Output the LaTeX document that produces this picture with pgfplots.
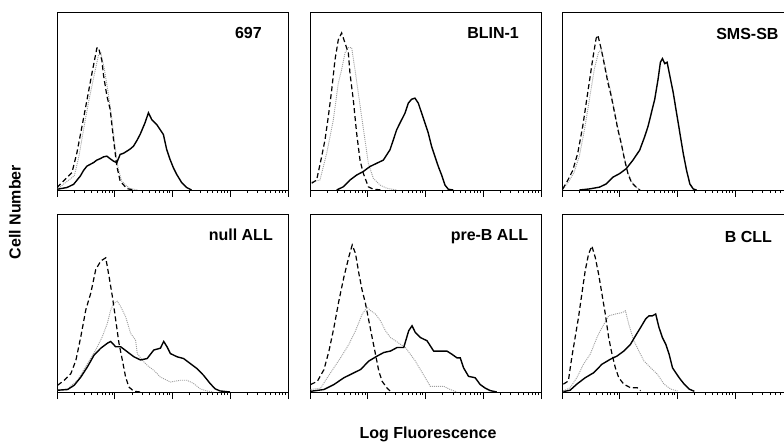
\documentclass[border=0pt]{standalone}
\usepackage{pgfplots}
\pgfplotsset{compat=1.18}
\usepackage{fontspec}
\setmainfont{Liberation Sans}
\pgfplotsset{
  panel/.style={
    scale only axis, width=231pt, height=178pt, anchor=south west,
    xmin=0, xmax=4, ymin=0, ymax=5,
    xtick={0,1,2,3,4},
    minor xtick={0.301,0.477,0.602,0.699,0.778,0.845,0.903,0.954,
      1.301,1.477,1.602,1.699,1.778,1.845,1.903,1.954,
      2.301,2.477,2.602,2.699,2.778,2.845,2.903,2.954,
      3.301,3.477,3.602,3.699,3.778,3.845,3.903,3.954},
    ytick=\empty, minor ytick={1,2,3,4},
    xticklabels={}, yticklabels={},
    tick align=outside, xtick pos=bottom, ytick pos=left,
    major tick length=7pt, minor tick length=3pt,
    every tick/.style={black, line width=0.8pt},
    axis line style={line width=0.9pt},
  },
  sol/.style={black, line width=1.4pt, no marks},
  das/.style={black, line width=1.2pt, dash pattern=on 5pt off 3pt, no marks},
  dot/.style={gray!75, line width=0.9pt, dash pattern=on 1pt off 1pt, no marks},
}
\newcommand{\ptitle}[1]{\fontsize{16}{19}\selectfont\bfseries #1}
\begin{document}
\begin{tikzpicture}
\path[use as bounding box] (0,0) rectangle (784pt,442pt);
\clip (0,0) rectangle (784pt,442pt);

% ---------- 697 ----------
\begin{axis}[panel, at={(57pt,252pt)}]
\addplot[dot] coordinates {(0,0.02)(0.3,0.4)(0.38,0.95)(0.46,1.7)(0.55,2.5)(0.64,3.2)(0.72,3.8)(0.76,3.85)(0.82,3.4)(0.88,2.8)(0.95,2.0)(1.0,1.3)(1.06,0.6)(1.12,0.25)(1.25,0.05)(1.4,0)};
\addplot[das] coordinates {(0,0.07)(0.259,0.49)(0.345,1.05)(0.432,1.78)(0.518,2.52)(0.604,3.27)(0.691,3.99)(0.719,4.0)(0.777,3.64)(0.806,3.22)(0.863,2.65)(0.921,2.26)(0.978,1.42)(1.036,0.67)(1.094,0.25)(1.209,0.04)(1.324,0)};
\addplot[sol] coordinates {(0,0.02)(0.173,0.07)(0.288,0.16)(0.403,0.39)(0.46,0.55)(0.518,0.67)(0.575,0.72)(0.633,0.77)(0.69,0.84)(0.748,0.88)(0.805,0.93)(0.863,0.95)(0.92,0.88)(0.978,0.81)(1.036,0.77)(1.094,1.0)(1.15,1.03)(1.209,1.09)(1.266,1.15)(1.324,1.23)(1.38,1.38)(1.439,1.56)(1.525,1.89)(1.583,2.17)(1.64,1.98)(1.727,1.84)(1.784,1.7)(1.842,1.56)(1.899,1.14)(1.957,0.86)(2.014,0.63)(2.072,0.44)(2.158,0.21)(2.245,0.07)(2.331,0)};
\node[anchor=north east, inner sep=0pt] at (rel axis cs:0.887,0.915) {\ptitle{697}};
\end{axis}

% ---------- BLIN-1 ----------
\begin{axis}[panel, at={(310pt,252pt)}]
\addplot[dot] coordinates {(0.029,0.23)(0.173,0.28)(0.289,1.03)(0.404,1.97)(0.49,3.0)(0.548,3.38)(0.606,3.85)(0.664,4.0)(0.721,4.0)(0.779,3.38)(0.837,2.72)(0.894,2.06)(0.952,1.41)(1.01,0.75)(1.096,0.33)(1.212,0.14)(1.327,0.05)(1.5,0)};
\addplot[das] coordinates {(0.029,0.19)(0.115,0.28)(0.202,0.94)(0.26,1.41)(0.317,2.06)(0.375,2.8)(0.433,3.66)(0.49,4.22)(0.548,4.41)(0.606,4.13)(0.664,3.85)(0.692,3.28)(0.75,2.53)(0.808,1.59)(0.866,0.84)(0.923,0.47)(1.01,0.09)(1.096,0.02)(1.27,0)};
\addplot[sol] coordinates {(0.462,0)(0.577,0.09)(0.692,0.28)(0.808,0.42)(0.923,0.52)(1.039,0.66)(1.154,0.75)(1.27,0.84)(1.385,1.13)(1.443,1.41)(1.5,1.69)(1.558,1.88)(1.645,2.16)(1.702,2.44)(1.76,2.55)(1.818,2.58)(1.875,2.44)(1.933,2.16)(1.991,1.88)(2.048,1.6)(2.106,1.22)(2.164,0.94)(2.222,0.66)(2.279,0.42)(2.337,0.14)(2.395,0.02)(2.481,0)};
\node[anchor=north east, inner sep=0pt] at (rel axis cs:0.905,0.915) {\ptitle{BLIN-1}};
\end{axis}

% ---------- SMS-SB ----------
\begin{axis}[panel, at={(562pt,252pt)}]
\addplot[dot] coordinates {(0.02,0.02)(0.12,0.25)(0.21,0.5)(0.3,0.95)(0.39,1.7)(0.48,2.6)(0.56,3.4)(0.63,3.85)(0.68,3.95)(0.72,3.7)(0.78,3.2)(0.84,2.8)(0.9,2.3)(0.96,1.8)(1.02,1.35)(1.08,0.9)(1.14,0.5)(1.2,0.25)(1.28,0.08)(1.36,0)};
\addplot[das] coordinates {(0.012,0.03)(0.099,0.27)(0.186,0.55)(0.272,1.03)(0.359,1.79)(0.446,2.74)(0.533,3.69)(0.591,4.26)(0.62,4.35)(0.678,3.97)(0.736,3.5)(0.794,3.02)(0.852,2.64)(0.91,2.17)(0.968,1.69)(1.026,1.31)(1.084,0.84)(1.142,0.46)(1.2,0.22)(1.258,0.12)(1.345,0)};
\addplot[sol] coordinates {(0.301,0)(0.475,0.03)(0.649,0.08)(0.765,0.17)(0.881,0.36)(0.997,0.46)(1.113,0.6)(1.229,0.84)(1.345,1.12)(1.432,1.5)(1.49,1.79)(1.548,2.17)(1.606,2.55)(1.664,3.12)(1.704,3.59)(1.739,3.69)(1.78,3.55)(1.82,3.59)(1.867,3.21)(1.925,2.74)(1.983,2.17)(2.041,1.6)(2.099,1.03)(2.157,0.55)(2.214,0.17)(2.272,0.03)(2.33,0)};
\node[anchor=north east, inner sep=0pt] at (rel axis cs:0.938,0.91) {\ptitle{SMS-SB}};
\end{axis}

% ---------- null ALL ----------
\begin{axis}[panel, at={(57pt,50pt)}]
\addplot[dot] coordinates {(0.011,0.05)(0.184,0.09)(0.356,0.33)(0.528,0.8)(0.671,1.18)(0.786,1.56)(0.872,1.93)(0.93,2.31)(0.987,2.5)(1.044,2.55)(1.102,2.4)(1.188,2.12)(1.274,1.65)(1.36,1.46)(1.389,1.08)(1.475,0.9)(1.561,0.75)(1.676,0.61)(1.79,0.42)(1.963,0.28)(2.135,0.33)(2.25,0.33)(2.364,0.24)(2.479,0.09)(2.594,0.03)(2.709,0)};
\addplot[das] coordinates {(0.011,0.19)(0.126,0.33)(0.241,0.52)(0.327,0.89)(0.413,1.56)(0.499,2.31)(0.585,2.78)(0.671,3.44)(0.758,3.68)(0.844,3.77)(0.901,3.25)(0.958,2.69)(1.016,2.03)(1.073,1.37)(1.131,0.9)(1.188,0.42)(1.245,0.14)(1.331,0.02)(1.446,0)};
\addplot[sol] coordinates {(0.011,0.05)(0.184,0.07)(0.298,0.19)(0.413,0.42)(0.528,0.71)(0.643,1.04)(0.758,1.23)(0.872,1.37)(0.93,1.42)(1.016,1.27)(1.102,1.27)(1.217,1.13)(1.331,0.99)(1.446,0.9)(1.561,0.94)(1.676,1.18)(1.79,1.23)(1.848,1.42)(1.905,1.27)(1.963,1.08)(2.078,0.99)(2.192,0.94)(2.307,0.8)(2.422,0.66)(2.537,0.47)(2.651,0.24)(2.737,0.09)(2.823,0.03)(2.995,0)};
\node[anchor=north east, inner sep=0pt] at (rel axis cs:0.935,0.915) {\ptitle{null ALL}};
\end{axis}

% ---------- pre-B ALL ----------
\begin{axis}[panel, at={(310pt,50pt)}]
\addplot[dot] coordinates {(0.012,0.07)(0.184,0.11)(0.299,0.4)(0.414,0.68)(0.529,0.96)(0.673,1.34)(0.788,1.72)(0.904,2.19)(0.99,2.38)(1.047,2.29)(1.134,2.19)(1.22,2.0)(1.307,1.72)(1.393,1.53)(1.479,1.44)(1.565,1.34)(1.652,1.25)(1.738,1.06)(1.824,0.87)(1.911,0.63)(1.997,0.4)(2.083,0.16)(2.199,0.16)(2.314,0.16)(2.429,0.07)(2.544,0)};
\addplot[das] coordinates {(0.012,0.21)(0.127,0.3)(0.242,0.63)(0.328,1.15)(0.414,1.81)(0.501,2.57)(0.587,3.23)(0.673,3.8)(0.731,4.13)(0.788,3.89)(0.846,3.33)(0.904,2.85)(0.961,2.48)(1.019,2.0)(1.076,1.53)(1.134,1.06)(1.191,0.59)(1.249,0.3)(1.335,0.11)(1.393,0.02)};
\addplot[sol] coordinates {(0.012,0.02)(0.242,0.07)(0.414,0.21)(0.587,0.4)(0.76,0.54)(0.875,0.63)(1.019,0.87)(1.163,1.01)(1.278,1.11)(1.393,1.15)(1.508,1.25)(1.623,1.25)(1.709,1.72)(1.767,1.86)(1.824,1.67)(1.911,1.53)(2.026,1.44)(2.141,1.15)(2.256,1.15)(2.371,1.15)(2.458,1.06)(2.544,0.96)(2.601,0.96)(2.659,0.68)(2.745,0.44)(2.86,0.4)(2.947,0.21)(3.033,0.11)(3.119,0.04)(3.234,0)};
\node[anchor=north east, inner sep=0pt] at (rel axis cs:0.945,0.915) {\ptitle{pre-B ALL}};
\end{axis}

% ---------- B CLL ----------
\begin{axis}[panel, at={(562pt,50pt)}]
\addplot[dot] coordinates {(0.023,0.03)(0.14,0.12)(0.256,0.4)(0.372,0.78)(0.488,1.06)(0.605,1.53)(0.692,1.81)(0.808,2.14)(0.924,2.19)(1.041,2.23)(1.099,2.28)(1.157,1.9)(1.244,1.44)(1.331,1.15)(1.419,0.87)(1.535,0.68)(1.651,0.5)(1.767,0.22)(1.884,0.08)(2.0,0.03)};
\addplot[das] coordinates {(0.023,0.22)(0.11,0.31)(0.169,0.97)(0.227,1.53)(0.285,2.09)(0.343,2.75)(0.401,3.4)(0.459,3.87)(0.517,4.1)(0.576,3.78)(0.634,3.31)(0.692,2.75)(0.75,2.19)(0.808,1.53)(0.866,1.06)(0.924,0.68)(0.983,0.4)(1.07,0.22)(1.186,0.12)(1.302,0.12)(1.36,0.03)};
\addplot[sol] coordinates {(0.023,0.01)(0.14,0.05)(0.256,0.22)(0.401,0.4)(0.547,0.54)(0.692,0.78)(0.837,0.92)(0.953,1.01)(1.07,1.15)(1.186,1.34)(1.273,1.58)(1.36,1.81)(1.448,2.05)(1.506,2.14)(1.564,2.14)(1.622,2.19)(1.68,1.81)(1.738,1.53)(1.797,1.34)(1.855,1.06)(1.913,0.68)(1.971,0.54)(2.029,0.4)(2.116,0.22)(2.203,0.08)(2.291,0.02)};
\node[anchor=north east, inner sep=0pt] at (rel axis cs:0.91,0.905) {\ptitle{B CLL}};
\end{axis}

\node[rotate=90, anchor=center, inner sep=0pt] at (15pt,230pt) {\ptitle{Cell Number}};
\node[anchor=base, inner sep=0pt] at (428pt,4pt) {\ptitle{Log Fluorescence}};
\end{tikzpicture}
\end{document}
